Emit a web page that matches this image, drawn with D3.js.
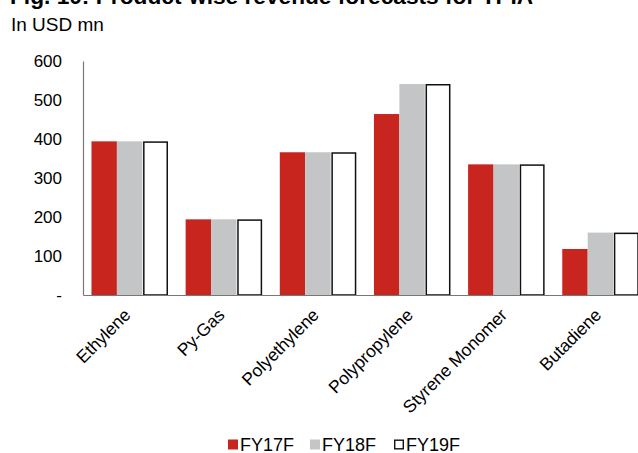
<!DOCTYPE html>
<html>
<head>
<meta charset="utf-8">
<script src="https://cdn.jsdelivr.net/npm/d3@7"></script>
<style>
  html, body { margin: 0; padding: 0; background: #fff; }
  svg { display: block; font-family: "Liberation Sans", Arial, sans-serif; }
</style>
</head>
<body>
<svg id="chart" width="638" height="453"></svg>
<script>
// Product revenue forecasts, USD mn
const categories = ["Ethylene", "Py-Gas", "Polyethylene", "Polypropylene", "Styrene Monomer", "Butadiene"];
const seriesNames = ["FY17F", "FY18F", "FY19F"];
const fy17 = [394, 194, 366, 464, 335, 118];
const fy18 = [394, 194, 366, 541, 335, 160];
const fy19 = [394, 194, 366, 541, 335, 160];
const yTicks = [0, 100, 200, 300, 400, 500, 600];

const seriesValues = [fy17, fy18, fy19];
const fills = ["#C8251F", "#C4C5C7", "#FFFFFF"];
const strokes = ["none", "none", "#111"];

const svg = d3.select("#chart");
const margin = { left: 83, right: -9, top: 61, bottom: 158 };
const W = 638, H = 453;

const x = d3.scaleBand().domain(categories).range([margin.left, W - margin.right]).paddingInner(0.19).paddingOuter(0.09);
const xs = d3.scaleBand().domain(seriesNames).range([0, x.bandwidth()]);
const y = d3.scaleLinear().domain([0, 600]).range([H - margin.bottom, margin.top]);

// Title (runs off the top edge) and unit note
svg.append("text").attr("x", 10).attr("y", 4).attr("font-size", 22.7).attr("font-weight", "bold")
  .attr("fill", "#000").text("Fig. 10: Product-wise revenue forecasts for TPIA");
svg.append("text").attr("x", 11).attr("y", 31).attr("font-size", 19).attr("fill", "#000").text("In USD mn");

// Bars
categories.forEach((c, i) => {
  seriesNames.forEach((s, j) => {
    const v = seriesValues[j][i];
    const bx = x(c) + xs(s);
    const w = xs.bandwidth();
    if (strokes[j] === "none") {
      svg.append("rect").attr("x", bx).attr("y", y(v)).attr("width", w).attr("height", y(0) - y(v))
        .attr("fill", fills[j]);
    } else {
      svg.append("rect").attr("x", bx + 1.5).attr("y", y(v) + 0.75).attr("width", w - 2).attr("height", y(0) - y(v) - 0.75)
        .attr("fill", fills[j]).attr("stroke", strokes[j]).attr("stroke-width", 1.5);
    }
  });
});

// Y axis
const yAxis = d3.axisLeft(y).tickValues(yTicks).tickSize(0).tickPadding(21)
  .tickFormat(d => d === 0 ? "-" : d3.format("d")(d));
const gy = svg.append("g").attr("transform", `translate(${margin.left},0)`).call(yAxis);
gy.select(".domain").attr("stroke", "#777").attr("stroke-width", 1.2);
gy.selectAll("text").attr("font-size", 17).attr("fill", "#000").attr("font-family", "Liberation Sans, Arial, sans-serif");

// X axis
const xAxis = d3.axisBottom(x).tickSize(0).tickPadding(0);
const gx = svg.append("g").attr("transform", `translate(0,${y(0)})`).call(xAxis);
gx.select(".domain").attr("stroke", "#777").attr("stroke-width", 1.2);
gx.selectAll("text")
  .attr("font-size", 17.5).attr("fill", "#000").attr("font-family", "Liberation Sans, Arial, sans-serif")
  .attr("text-anchor", "end").attr("dy", null)
  .attr("transform", "translate(2,21) rotate(-45)");

// Legend
const legendX = [228, 310, 394];
seriesNames.forEach((s, j) => {
  const g = svg.append("g").attr("transform", `translate(${legendX[j]},444.5)`);
  if (strokes[j] === "none") {
    g.append("rect").attr("x", 0).attr("y", -5).attr("width", 10).attr("height", 10).attr("fill", fills[j]);
  } else {
    g.append("rect").attr("x", 0.7).attr("y", -4.3).attr("width", 8.6).attr("height", 8.6)
      .attr("fill", fills[j]).attr("stroke", strokes[j]).attr("stroke-width", 1.4);
  }
  g.append("text").attr("x", 12).attr("y", 6.5).attr("font-size", 18).attr("fill", "#000").text(s);
});
</script>
</body>
</html>
